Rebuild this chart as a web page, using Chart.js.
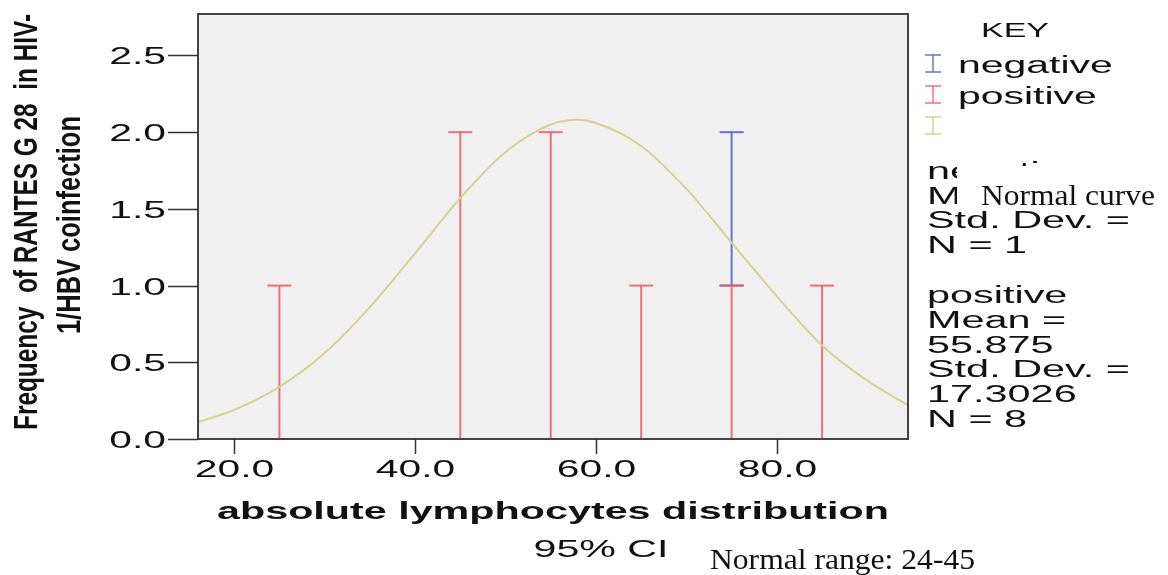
<!DOCTYPE html>
<html>
<head>
<meta charset="utf-8">
<script src="https://cdn.jsdelivr.net/npm/chart.js@4"></script>
<style>
  html, body { margin: 0; padding: 0; background: #fff; }
  #wrap { width: 1168px; height: 575px; }
</style>
</head>
<body>
<div id="wrap"><canvas id="chart" width="1168" height="575"></canvas></div>
<script>
// bin centres of the histogram and the counts
const binCenters = [25, 45, 55, 65, 75, 85];
const positiveFreq = [1, 2, 2, 1, 1, 1];
const negativeFreq = [0, 0, 0, 0, 1, 0];

// normal curve
const curveX = [16, 20, 25, 30, 35, 40, 45, 50, 55, 58, 60, 65, 70, 75, 80, 85, 90, 94.5];
const curveY = [0.11, 0.19, 0.34, 0.56, 0.86, 1.21, 1.57, 1.87, 2.05, 2.08, 2.06, 1.91, 1.63, 1.28, 0.93, 0.61, 0.38, 0.22];

// tick labels
const xTicks = [20, 40, 60, 80];
const yTicks = [0, 0.5, 1, 1.5, 2, 2.5];

// key / stats text
const keyLabels = ['negative', 'positive', ''];
const statsNegative = ['negative', 'Mean =', 'Std. Dev. =', 'N = 1'];
const statsPositive = ['positive', 'Mean =', '55.875', 'Std. Dev. =', '17.3026', 'N = 8'];

const RED = 'rgba(240,88,98,0.85)';
const BLUE = 'rgba(72,98,196,0.85)';
const BEIGE = 'rgba(214,208,150,1)';
const SANS = '"Liberation Sans", Arial, sans-serif';
const SERIF = '"Liberation Serif", "Times New Roman", serif';

// one I-beam per bin: base -> top, a null breaks the line
function beams(lows, highs) {
    const pts = [];
    binCenters.forEach((c, i) => {
        if (highs[i] <= lows[i]) return;
        pts.push({ x: c, y: lows[i] }, { x: c, y: highs[i] }, { x: c, y: null });
    });
    return pts;
}
const zeros = binCenters.map(() => 0);
const negTop = positiveFreq.map((p, i) => p + negativeFreq[i]);

// draws text squeezed/stretched horizontally; opt.fit = wanted width in px
function txt(ctx, s, x, y, size, sx, opt = {}) {
    ctx.save();
    ctx.font = `${opt.weight || 'normal'} ${size}px ${opt.family || SANS}`;
    ctx.fillStyle = opt.color || '#111';
    ctx.textAlign = opt.align || 'left';
    ctx.textBaseline = opt.baseline || 'alphabetic';
    if (opt.fit) sx = opt.fit / ctx.measureText(s).width;
    ctx.translate(x, y);
    if (opt.rotate) ctx.rotate(opt.rotate);
    ctx.scale(sx, 1);
    ctx.fillText(s, 0, 0);
    ctx.restore();
}

function iBeam(ctx, x, y1, y2, w, color) {
    ctx.save();
    ctx.strokeStyle = color;
    ctx.lineWidth = 1.5;
    ctx.beginPath();
    ctx.moveTo(x, y1); ctx.lineTo(x, y2);
    ctx.moveTo(x - w / 2, y1); ctx.lineTo(x + w / 2, y1);
    ctx.moveTo(x - w / 2, y2); ctx.lineTo(x + w / 2, y2);
    ctx.stroke();
    ctx.restore();
}

const decor = {
    id: 'decor',
    beforeDraw(chart) {
        const { ctx, chartArea: a } = chart;
        ctx.save();
        ctx.fillStyle = '#fff';
        ctx.fillRect(0, 0, chart.width, chart.height);
        ctx.fillStyle = '#f0f0f0';
        ctx.fillRect(a.left, a.top, a.right - a.left, a.bottom - a.top);
        ctx.restore();
    },
    afterDraw(chart) {
        const { ctx, chartArea: a, scales: { x, y } } = chart;
        ctx.save();
        // frame
        ctx.strokeStyle = '#444';
        ctx.lineWidth = 2;
        ctx.strokeRect(a.left, a.top, a.right - a.left, a.bottom - a.top);
        // y ticks
        ctx.lineWidth = 1.5;
        ctx.strokeStyle = '#333';
        yTicks.forEach(v => {
            const py = Math.round(y.getPixelForValue(v)) + 0.5;
            ctx.beginPath(); ctx.moveTo(a.left - 30, py); ctx.lineTo(a.left, py); ctx.stroke();
            txt(ctx, v.toFixed(1), a.left - 32, py + 2, 24, 1.7, { align: 'right', baseline: 'middle' });
        });
        // x ticks
        xTicks.forEach(v => {
            const px = Math.round(x.getPixelForValue(v)) + 0.5;
            ctx.beginPath(); ctx.moveTo(px, a.bottom); ctx.lineTo(px, a.bottom + 15); ctx.stroke();
            txt(ctx, v.toFixed(1), px, a.bottom + 38, 24, 1.7, { align: 'center' });
        });
        ctx.restore();

        // axis titles
        txt(ctx, 'absolute lymphocytes distribution', (a.left + a.right) / 2, 519, 24, 1, { align: 'center', weight: 'bold', fit: 672 });
        txt(ctx, 'Frequency  of RANTES G 28  in HIV-', 37, 222, 33, 1, { align: 'center', weight: 'bold', rotate: -Math.PI / 2, fit: 416 });
        txt(ctx, '1/HBV coinfection', 80, 225, 33, 1, { align: 'center', weight: 'bold', rotate: -Math.PI / 2, fit: 218 });

        // key
        txt(ctx, 'KEY', 1015, 37, 21, 1, { align: 'center', fit: 68 });
        const keyColors = [BLUE, RED, BEIGE];
        keyLabels.forEach((s, i) => {
            const top = 55 + i * 31;
            iBeam(ctx, 933, top, top + 17, 16, keyColors[i]);
            if (s) txt(ctx, s, 958, top + 18, 23, 1.78);
        });

        // group statistics
        statsNegative.forEach((s, i) => txt(ctx, s, 927, 179 + i * 24.7, 23, 1.8));
        statsPositive.forEach((s, i) => txt(ctx, s, 927, 303 + i * 24.8, 23, 1.8));

        // pasted "Normal curve" label covering the hidden text
        ctx.save();
        ctx.fillStyle = '#fff';
        ctx.fillRect(957, 166, 211, 45);
        ctx.restore();
        txt(ctx, 'Normal curve', 981, 205, 29, 1, { family: SERIF, fit: 174 });

        // footer
        txt(ctx, '95% CI', 601, 557, 23, 1, { align: 'center', fit: 135 });
        txt(ctx, 'Normal range: 24-45', 710, 569, 29, 1, { family: SERIF, fit: 265 });
    }
};

new Chart(document.getElementById('chart'), {
    type: 'scatter',
    data: {
        datasets: [
            {
                label: 'Normal curve',
                data: curveX.map((v, i) => ({ x: v, y: curveY[i] })),
                showLine: true,
                borderColor: BEIGE,
                borderWidth: 2,
                pointRadius: 0,
                cubicInterpolationMode: 'monotone'
            },
            {
                label: 'positive',
                data: beams(zeros, positiveFreq),
                showLine: true,
                spanGaps: false,
                borderColor: RED,
                borderWidth: 2,
                pointStyle: 'line',
                pointRadius: 12,
                pointBorderWidth: 2,
                pointBorderColor: RED
            },
            {
                label: 'negative',
                data: beams(positiveFreq, negTop),
                showLine: true,
                spanGaps: false,
                borderColor: BLUE,
                borderWidth: 2,
                pointStyle: 'line',
                pointRadius: 12,
                pointBorderWidth: 2,
                pointBorderColor: BLUE
            }
        ]
    },
    options: {
        responsive: false,
        animation: false,
        events: [],
        layout: { padding: { left: 198, top: 10, right: 260, bottom: 136 } },
        plugins: { legend: { display: false }, tooltip: { enabled: false } },
        scales: {
            x: { type: 'linear', min: 16, max: 94.5, display: false },
            y: { type: 'linear', min: 0, max: 2.77, display: false }
        }
    },
    plugins: [decor]
});
</script>
</body>
</html>
